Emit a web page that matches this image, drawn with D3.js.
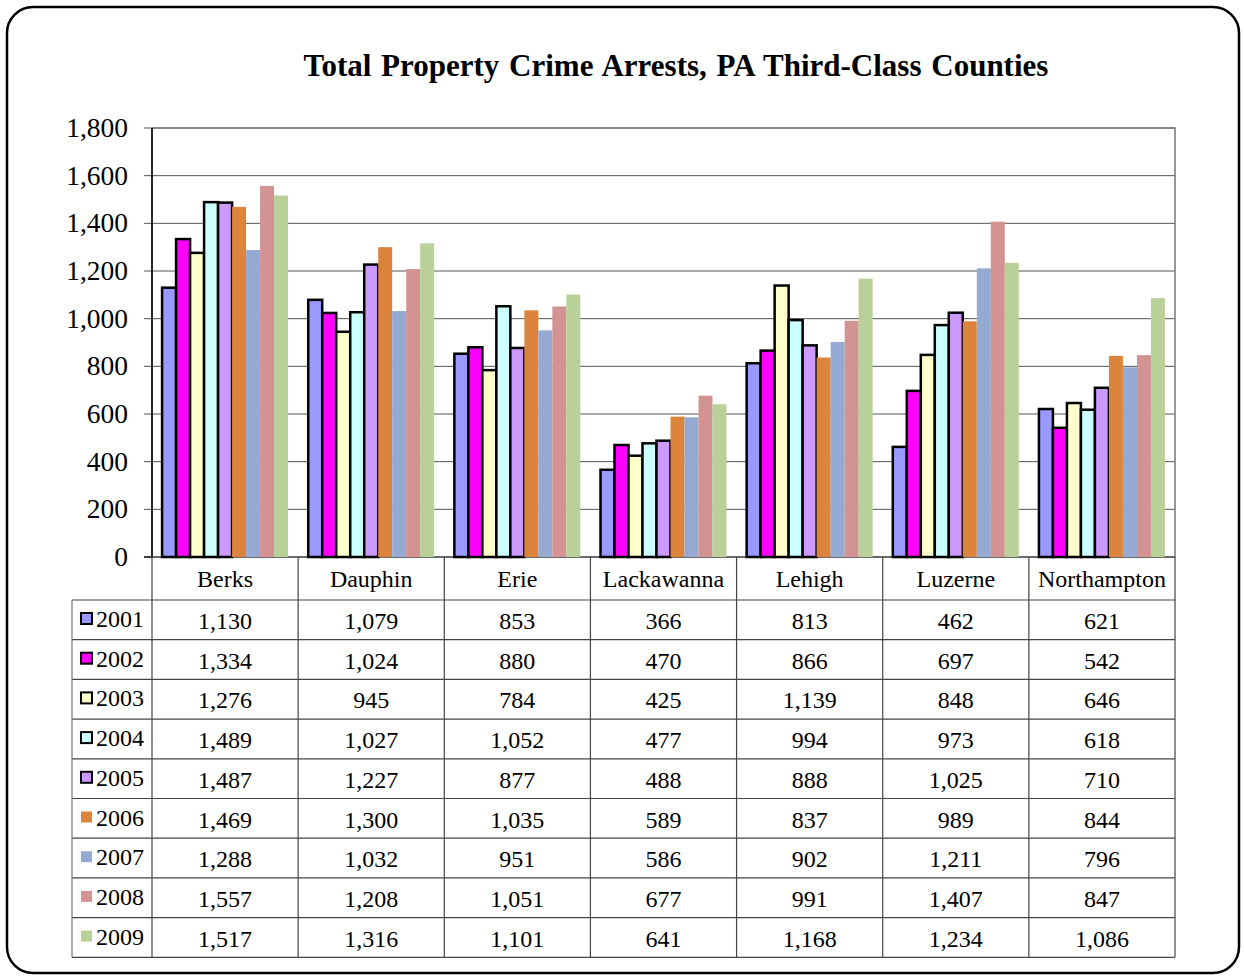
<!DOCTYPE html>
<html>
<head>
<meta charset="utf-8">
<script src="https://cdn.jsdelivr.net/npm/d3@7"></script>
<style>
  body { margin: 0; background: #fff; }
  svg { font-family: "Liberation Serif", "Times New Roman", serif; }
</style>
</head>
<body>
<svg width="1244" height="978"></svg>
<script>
const counties = ["Berks", "Dauphin", "Erie", "Lackawanna", "Lehigh", "Luzerne", "Northampton"];
const years = ["2001", "2002", "2003", "2004", "2005", "2006", "2007", "2008", "2009"];
const v2001 = [1130, 1079, 853, 366, 813, 462, 621];
const v2002 = [1334, 1024, 880, 470, 866, 697, 542];
const v2003 = [1276, 945, 784, 425, 1139, 848, 646];
const v2004 = [1489, 1027, 1052, 477, 994, 973, 618];
const v2005 = [1487, 1227, 877, 488, 888, 1025, 710];
const v2006 = [1469, 1300, 1035, 589, 837, 989, 844];
const v2007 = [1288, 1032, 951, 586, 902, 1211, 796];
const v2008 = [1557, 1208, 1051, 677, 991, 1407, 847];
const v2009 = [1517, 1316, 1101, 641, 1168, 1234, 1086];
const yTicks = [0, 200, 400, 600, 800, 1000, 1200, 1400, 1600, 1800];

const colors = ["#9999ff", "#ff00ff", "#ffffcc", "#ccffff", "#cc99ff", "#dd843c", "#95aad3", "#d39393", "#b9d098"];
const outlined = [true, true, true, true, true, false, false, false, false];
const series = [v2001, v2002, v2003, v2004, v2005, v2006, v2007, v2008, v2009];

const svg = d3.select("svg");
const fmt = d3.format(",");

// outer rounded frame
svg.append("rect")
    .attr("x", 7).attr("y", 7)
    .attr("width", 1232).attr("height", 966)
    .attr("rx", 26)
    .attr("fill", "#fff")
    .attr("stroke", "#000")
    .attr("stroke-width", 2.5);

svg.append("text")
    .attr("x", 676).attr("y", 76)
    .attr("text-anchor", "middle")
    .attr("font-size", 31)
    .attr("font-weight", "bold")
    .attr("word-spacing", 2)
    .text("Total Property Crime Arrests, PA Third-Class Counties");

const pLeft = 152, pRight = 1175, pTop = 128, pBottom = 557;

const x = d3.scaleBand().domain(counties).range([pLeft, pRight]);
const y = d3.scaleLinear().domain([0, 1800]).range([pBottom, pTop]);
const xs = d3.scaleBand().domain(years).range([0, x.bandwidth()]).paddingOuter(0.72).paddingInner(0);

// gridlines
svg.append("g").selectAll("line")
    .data(yTicks)
    .join("line")
    .attr("x1", pLeft - 8).attr("x2", pRight)
    .attr("y1", d => y(d)).attr("y2", d => y(d))
    .attr("stroke", d => d === 0 ? "#000" : "#555")
    .attr("stroke-width", d => d === 0 ? 1.5 : 1);

// y tick labels
svg.append("g").selectAll("text")
    .data(yTicks)
    .join("text")
    .attr("x", pLeft - 24).attr("y", d => y(d) + 9)
    .attr("text-anchor", "end")
    .attr("font-size", 27.5)
    .text(d => fmt(d));

// plot border
svg.append("rect")
    .attr("x", pLeft).attr("y", pTop)
    .attr("width", pRight - pLeft).attr("height", pBottom - pTop)
    .attr("fill", "none").attr("stroke", "#777").attr("stroke-width", 1.5);
svg.append("line")
    .attr("x1", pLeft).attr("x2", pLeft).attr("y1", pTop).attr("y2", pBottom)
    .attr("stroke", "#000").attr("stroke-width", 1.5);

// bars
const groups = svg.append("g").selectAll("g")
    .data(counties)
    .join("g")
    .attr("transform", d => `translate(${x(d)},0)`);

groups.selectAll("rect")
    .data((c, ci) => years.map((yr, si) => ({ yr, si, v: series[si][ci] })))
    .join("rect")
    .attr("x", d => xs(d.yr))
    .attr("y", d => y(d.v))
    .attr("width", xs.bandwidth())
    .attr("height", d => y(0) - y(d.v))
    .attr("fill", d => colors[d.si])
    .attr("stroke", d => outlined[d.si] ? "#000" : "none")
    .attr("stroke-width", 2.5);

// data table
const headH = 43, rowH = 39.7;
const tLeft = 72;
const tBottom = pBottom + headH + rowH * years.length;

const table = svg.append("g").attr("font-size", 24);

// header
table.selectAll(".head")
    .data(counties)
    .join("text")
    .attr("class", "head")
    .attr("x", d => x(d) + x.bandwidth() / 2)
    .attr("y", pBottom + 30)
    .attr("text-anchor", "middle")
    .text(d => d);

// horizontal lines
const hLines = d3.range(years.length + 1).map(i => pBottom + headH + i * rowH);
table.selectAll(".hl")
    .data(hLines)
    .join("line")
    .attr("class", "hl")
    .attr("x1", tLeft).attr("x2", pRight)
    .attr("y1", d => d).attr("y2", d => d)
    .attr("stroke", "#444").attr("stroke-width", 1.2);

// vertical lines
table.selectAll(".vl")
    .data(counties.map(c => x(c)).concat([pRight]))
    .join("line")
    .attr("class", "vl")
    .attr("x1", d => d).attr("x2", d => d)
    .attr("y1", pBottom).attr("y2", tBottom)
    .attr("stroke", "#444").attr("stroke-width", 1.2);
table.append("line")
    .attr("x1", tLeft).attr("x2", tLeft)
    .attr("y1", pBottom + headH).attr("y2", tBottom)
    .attr("stroke", "#777").attr("stroke-width", 1.2);

// rows
years.forEach((yr, si) => {
    const ry = pBottom + headH + si * rowH;
    table.append("rect")
        .attr("x", 81).attr("y", ry + 13)
        .attr("width", 11).attr("height", 11)
        .attr("fill", colors[si])
        .attr("stroke", outlined[si] ? "#000" : "none")
        .attr("stroke-width", 2);
    table.append("text")
        .attr("x", 96).attr("y", ry + 27)
        .text(yr);
    table.append("g").selectAll("text")
        .data(counties)
        .join("text")
        .attr("x", c => x(c) + x.bandwidth() / 2)
        .attr("y", ry + 29)
        .attr("text-anchor", "middle")
        .text((c, ci) => fmt(series[si][ci]));
});
</script>
</body>
</html>
